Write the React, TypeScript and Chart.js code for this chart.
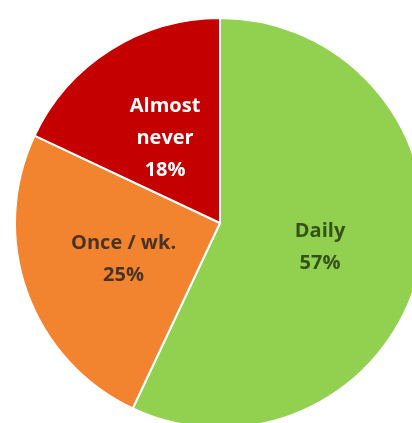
import React, { useEffect, useRef } from "react";
import { Chart, registerables } from "chart.js";

Chart.register(...registerables);

const categories = ["Daily", "Once / wk.", "Almost never"];
const labelLines = [["Daily"], ["Once / wk."], ["Almost", "never"]];
const values = [57, 25, 18];
const sliceColors = ["#92D050", "#F2832F", "#C40000"];
const textColors = ["#35521C", "#4A3322", "#FFFFFF"];

const labelPlugin = {
  id: "sliceLabels",
  afterDatasetsDraw(chart: any) {
    const { ctx } = chart;
    const meta = chart.getDatasetMeta(0);
    ctx.save();
    ctx.font = "bold 20px 'Open Sans', sans-serif";
    ctx.textAlign = "center";
    ctx.textBaseline = "middle";
    const lineH = 32;
    meta.data.forEach((arc: any, i: number) => {
      const pos = arc.tooltipPosition();
      const lines = [...labelLines[i], values[i] + "%"];
      const startY = pos.y + 2 - ((lines.length - 1) * lineH) / 2;
      ctx.fillStyle = textColors[i];
      lines.forEach((t, j) => ctx.fillText(t, pos.x, startY + j * lineH));
    });
    ctx.restore();
  },
};

export default function App() {
  const ref = useRef<HTMLCanvasElement>(null);
  useEffect(() => {
    if (!ref.current) return;
    const chart = new Chart(ref.current, {
      type: "pie",
      data: {
        labels: categories,
        datasets: [
          {
            data: values,
            backgroundColor: sliceColors,
            borderColor: "#FFFFFF",
            borderWidth: 2,
          },
        ],
      },
      options: {
        responsive: false,
        animation: false,
        layout: { padding: { left: 14, right: 14, top: 17, bottom: 17 } },
        plugins: { legend: { display: false }, tooltip: { enabled: false } },
      },
      plugins: [labelPlugin],
    });
    return () => chart.destroy();
  }, []);
  return (
    <div
      style={{
        position: "fixed",
        left: 0,
        top: 0,
        width: 412,
        height: 423,
        overflow: "hidden",
        background: "#FFFFFF",
      }}
    >
      <canvas ref={ref} width={440} height={446} style={{ display: "block" }} />
    </div>
  );
}
